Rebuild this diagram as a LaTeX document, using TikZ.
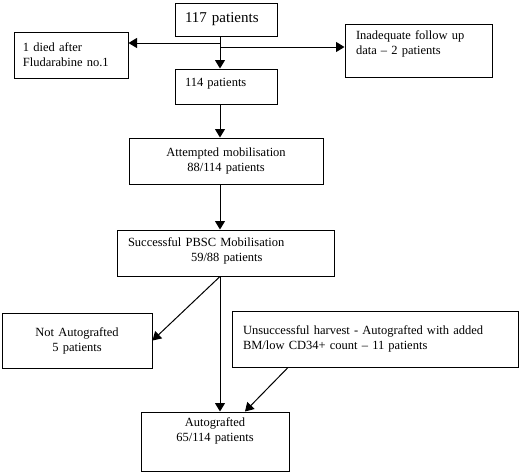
\documentclass[tikz,border=0pt]{standalone}
\usepackage{fontspec}
\setmainfont{Liberation Serif}
\usepackage{tikz}
\usetikzlibrary{arrows.meta,calc}
\tikzstyle{box} = [rectangle, draw=black, line width=1pt, font=\fontsize{12.5}{15}\selectfont, inner xsep=10pt, inner ysep=2pt]
\tikzstyle{arrow} = [line width=1pt,->,>={Triangle[length=8.5pt,width=10pt]}]

\begin{document}
\begin{tikzpicture}[x=1pt,y=-1pt]
\useasboundingbox (0,0) rectangle (520,472);
\node (total) [box, minimum width=102pt, minimum height=33pt, text width=82pt, align=left, font=\fontsize{15}{18}\selectfont] at (226,19.5) {117 patients};
\node (died) [box, minimum width=114pt, minimum height=46pt, text width=96pt, inner xsep=9pt, align=left] at (71,55) {1 died after\\Fludarabine no.1};
\node (followup) [box, minimum width=147pt, minimum height=53pt, text width=125pt, inner xsep=11pt, align=left, text depth=31pt] at (418.5,50.5) {Inadequate follow up\\data -- 2 patients};
\node (remain) [box, minimum width=102pt, minimum height=35pt, text width=82pt, align=left, text depth=9pt] at (226,86.5) {114 patients};
\node (attempted) [box, minimum width=194pt, minimum height=46pt, text width=174pt, align=center] at (226,161) {Attempted mobilisation\\88/114 patients};
\node (mobilised) [box, minimum width=217pt, minimum height=46pt, text width=195pt, inner xsep=11pt, align=left, text depth=22pt] at (225.5,253) {Successful PBSC Mobilisation\\\hspace*{63pt}59/88 patients};
\node (notgrafted) [box, minimum width=150pt, minimum height=55pt, text width=130pt, align=center] at (77,340.5) {Not Autografted\\5 patients};
\node (unsuccessful) [box, minimum width=286pt, minimum height=56pt, text width=264pt, inner xsep=11pt, align=left] at (375,339) {Unsuccessful harvest - Autografted with added\\BM/low CD34+ count -- 11 patients};
\node (autografted) [box, minimum width=148pt, minimum height=59pt, text width=128pt, align=center, text depth=38pt] at (215,441.5) {Autografted\\65/114 patients};

% main line and side branches
\coordinate (axis) at (220,0);
\coordinate (splitL) at (220,43);
\coordinate (splitR) at (220,47);
\draw [arrow] (total.south -| axis) -- (remain.north -| axis);
\draw [arrow] (splitL) -- (splitL -| died.east);
\draw [arrow] (splitR) -- (splitR -| followup.west);
\draw [arrow] (remain.south -| axis) -- (attempted.north -| axis);
\draw [arrow] (attempted.south -| axis) -- (mobilised.north -| axis);
\draw [arrow] (mobilised.south -| axis) -- (autografted.north -| axis);
\draw [arrow] (mobilised.south -| axis) -- (notgrafted.east);
\draw [arrow] ([xshift=-87pt]unsuccessful.south) -- ([xshift=30pt]autografted.north);
\end{tikzpicture}
\end{document}
